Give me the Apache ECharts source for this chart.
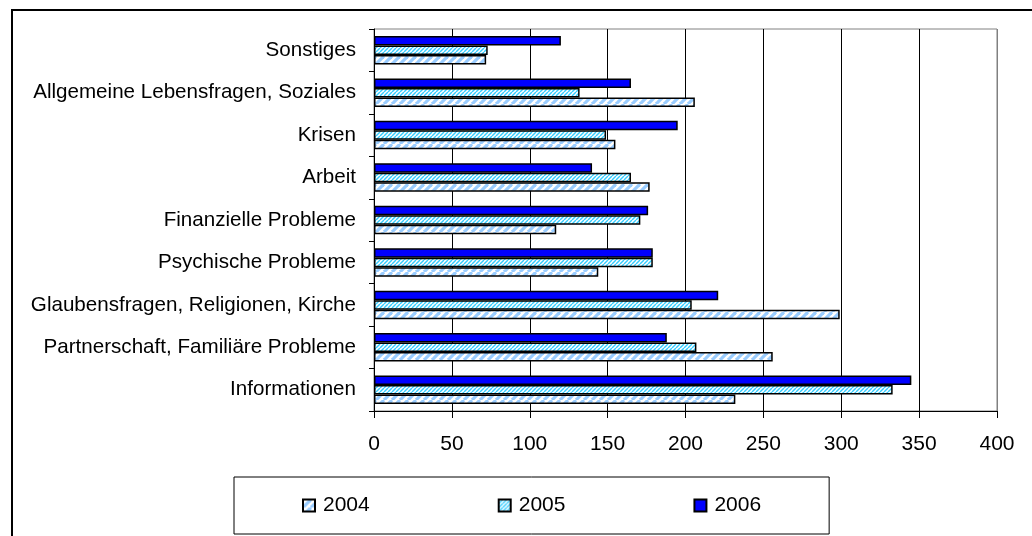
<!DOCTYPE html>
<html>
<head>
<meta charset="utf-8">
<script src="https://cdn.jsdelivr.net/npm/echarts@6/dist/echarts.min.js"></script>
<style>
  html, body { margin: 0; padding: 0; background: #fff; }
  #chart { width: 1032px; height: 536px; }
</style>
</head>
<body>
<div id="chart"></div>
<script>
// Anfragen nach Themen, 2004–2006 (bottom to top on the category axis)
const categories = [
  'Informationen',
  'Partnerschaft, Familiäre Probleme',
  'Glaubensfragen, Religionen, Kirche',
  'Psychische Probleme',
  'Finanzielle Probleme',
  'Arbeit',
  'Krisen',
  'Allgemeine Lebensfragen, Soziales',
  'Sonstiges'
];
const years = ['2004', '2005', '2006'];
const values2004 = [232, 256, 299, 144, 117, 177, 155, 206, 72];
const values2005 = [333, 207, 204, 179, 171, 165, 149, 132, 73];
const values2006 = [345, 188, 221, 179, 176, 140, 195, 165, 120];
const xTicks = { min: 0, max: 400, interval: 50 };

// Diagonal hatch tile ("/" direction), repeated as a fill pattern
function hatch(size, lineWidth, color) {
  const c = document.createElement('canvas');
  c.width = size; c.height = size;
  const ctx = c.getContext('2d');
  ctx.fillStyle = '#ffffff';
  ctx.fillRect(0, 0, size, size);
  ctx.strokeStyle = color;
  ctx.lineWidth = lineWidth;
  for (const k of [-size, 0, size]) {
    ctx.beginPath();
    ctx.moveTo(k, size);
    ctx.lineTo(k + size, 0);
    ctx.stroke();
  }
  return { image: c, repeat: 'repeat' };
}

const fills = {
  '2004': hatch(8, 3.2, '#99ccff'),
  '2005': hatch(4, 1.4, '#33ccff'),
  '2006': '#0000ff'
};
const valuesByYear = { '2004': values2004, '2005': values2005, '2006': values2006 };

// Within each group the first series sits on top, so the newest year goes first
const drawOrder = ['2006', '2005', '2004'];

const font = 'Liberation Sans, Arial, sans-serif';
const chart = echarts.init(document.getElementById('chart'), null, { renderer: 'canvas' });

chart.setOption({
  animation: false,
  backgroundColor: '#ffffff',
  textStyle: { fontFamily: font },
  grid: {
    left: 374, right: 35, top: 29, bottom: 125,
    show: true, borderColor: '#808080', borderWidth: 1, backgroundColor: 'transparent'
  },
  xAxis: {
    type: 'value',
    min: xTicks.min, max: xTicks.max, interval: xTicks.interval,
    axisLine: { show: true, lineStyle: { color: '#000', width: 1 } },
    axisTick: { show: true, length: 7, lineStyle: { color: '#000' } },
    axisLabel: { color: '#000', fontSize: 21, fontFamily: font, margin: 23 },
    splitLine: {
      show: true,
      lineStyle: { color: ['#000', '#000', '#000', '#000', '#000', '#000', '#000', '#000', '#808080'], width: 1 }
    }
  },
  yAxis: {
    type: 'category',
    data: categories,
    axisLine: { show: true, lineStyle: { color: '#000', width: 1 } },
    axisTick: { show: true, length: 5, lineStyle: { color: '#000' } },
    axisLabel: { color: '#000', fontSize: 20.6, fontFamily: font, margin: 18 },
    splitLine: { show: false }
  },
  legend: {
    data: years,
    left: 234, top: 477,
    padding: [18, 68, 18, 68],
    itemGap: 128,
    itemWidth: 12, itemHeight: 12,
    icon: 'rect',
    borderColor: '#000', borderWidth: 1,
    textStyle: { color: '#000', fontSize: 21, fontFamily: font, padding: [0, 0, 0, 3] }
  },
  series: drawOrder.map((y) => ({
    name: y,
    type: 'bar',
    data: valuesByYear[y],
    barWidth: 9.5,
    barGap: '0%',
    itemStyle: { color: fills[y], borderColor: '#000', borderWidth: 1.5 }
  })),
  graphic: [{
    type: 'rect',
    shape: { x: 12, y: 10, width: 1100, height: 600 },
    style: { fill: 'none', stroke: '#000', lineWidth: 2 },
    silent: true
  }]
});
</script>
</body>
</html>
